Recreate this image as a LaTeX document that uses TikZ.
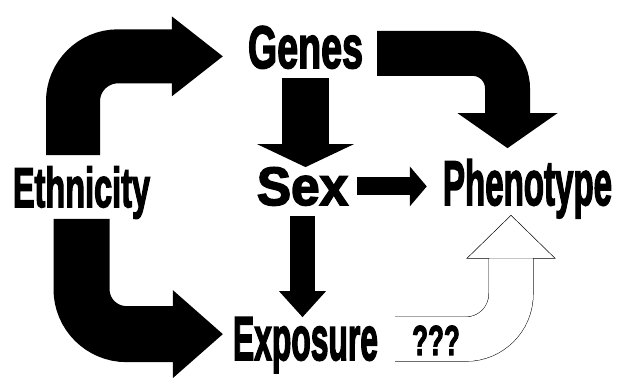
\documentclass[tikz,border=0pt]{standalone}
\usepackage{fontspec}
\newfontfamily\heavy{Liberation Sans}[BoldFeatures={FakeBold=3}]
\usetikzlibrary{arrows.meta}
\newcommand{\squeezed}[2]{\scalebox{#1}[1]{#2}}

\begin{document}
\begin{tikzpicture}[x=1pt, y=1pt,
    word/.style={inner sep=0pt, anchor=base, font=\heavy\bfseries\fontsize{#1}{#1}\selectfont},
    block/.style n args={3}{line width=#1, -{Triangle[length=#2, width=#3, line width=0pt]}},
    hollow/.style={double=white, double distance=44pt, line width=0.5pt, rounded corners=45pt}
]
\useasboundingbox (0,0) rectangle (620,378);

% Nodes
\node[word=60] (genes) at (305.5,310) {\squeezed{0.627}{Genes}};
\node[word=56] (eth) at (81.5,171) {\squeezed{0.58}{Ethnicity}};
\node[word=54] (sex) at (302.5,173) {\squeezed{0.95}{Sex}};
\node[word=63] (phen) at (527.5,173) {\squeezed{0.525}{Phenotype}};
\node[word=62] (exp) at (305.5,18) {\squeezed{0.513}{Exposure}};

% Arrows
\draw[block={54pt}{51pt}{80pt}, rounded corners=45pt] ([xshift=-8.5pt, yshift=11pt]eth.north) |- ([xshift=-25pt, yshift=-9pt]genes.west);
\draw[block={56pt}{50pt}{88pt}, rounded corners=45pt] (eth.south) |- ([xshift=-10pt, yshift=11pt]exp.west);
\draw[block={45pt}{35pt}{100pt}, rounded corners=35pt] ([xshift=14pt, yshift=-6pt]genes.east) -| ([xshift=-20pt, yshift=11pt]phen.north);
\draw[block={47pt}{23pt}{97pt}, shorten <=9pt] (genes.south) -- (genes.south |- sex.north);
\draw[block={18pt}{17pt}{40pt}, shorten <=9pt, shorten >=16pt] (sex.east) -- (sex.east -| phen.west);
\draw[block={25pt}{26pt}{47pt}, shorten <=10pt] (sex.south) -- (sex.south |- exp.north);

% open arrow with question marks
\coordinate (hb) at ([xshift=-16.5pt, yshift=-40pt]phen.south);
\draw[hollow] ([xshift=17pt, yshift=6pt]exp.east) -| (hb);
\draw[line width=0.5pt] ([xshift=-22pt]hb) -- ([xshift=-44pt]hb) -- ([yshift=43pt]hb) -- ([xshift=44pt]hb) -- ([xshift=22pt]hb);
\node[word=42] (qqq) at (436,23) {\squeezed{0.62}{???}};

\end{tikzpicture}
\end{document}
